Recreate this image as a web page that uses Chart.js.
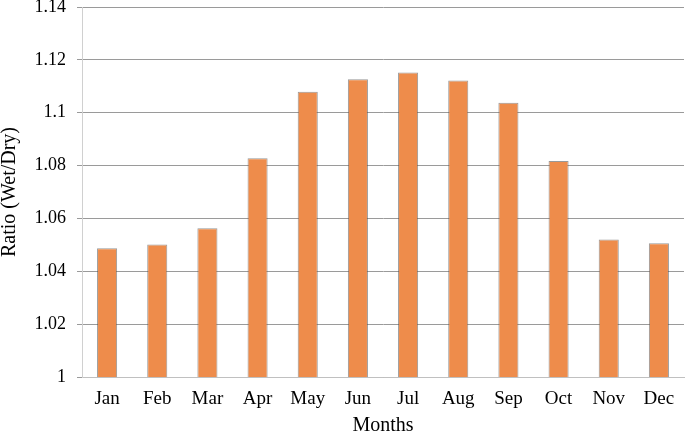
<!DOCTYPE html>
<html>
<head>
<meta charset="utf-8">
<script src="https://cdn.jsdelivr.net/npm/chart.js@4/dist/chart.umd.min.js"></script>
<style>
  html, body { margin: 0; padding: 0; background: #fff; }
  #wrap { width: 685px; height: 433px; position: relative; }
</style>
</head>
<body>
<div id="wrap"><canvas id="c"></canvas></div>
<script>
const months = ["Jan","Feb","Mar","Apr","May","Jun","Jul","Aug","Sep","Oct","Nov","Dec"];
const ratios = [1.0487, 1.0501, 1.0563, 1.0828, 1.1079, 1.1127, 1.1152, 1.1122, 1.1038, 1.0817, 1.0520, 1.0506];
const yTicks = [1, 1.02, 1.04, 1.06, 1.08, 1.1, 1.12, 1.14];
const xTitle = "Months";
const yTitle = "Ratio (Wet/Dry)";

const serif = "'Liberation Serif', 'Times New Roman', serif";

new Chart(document.getElementById('c'), {
  type: 'bar',
  data: {
    labels: months,
    datasets: [{
      data: ratios,
      backgroundColor: 'rgb(238,140,75)',
      borderColor: 'rgba(85,85,85,0.6)',
      borderWidth: 1,
      barPercentage: 0.4,
      categoryPercentage: 1.0
    }]
  },
  options: {
    responsive: true,
    maintainAspectRatio: false,
    animation: false,
    layout: { padding: { top: 7, right: 1, left: 0, bottom: 0 } },
    plugins: { legend: { display: false }, tooltip: { enabled: false } },
    scales: {
      x: {
        grid: { display: false, drawTicks: false },
        border: { display: true, color: '#c0c0c0', width: 1 },
        ticks: { color: '#000', font: { family: serif, size: 19 }, padding: 11, maxRotation: 0 },
        title: { display: true, text: xTitle, color: '#000', font: { family: serif, size: 20, lineHeight: 0.7 }, padding: 0 },
        afterFit: (s) => { s.height = 56; s.paddingLeft = 0; s.paddingRight = 0; }
      },
      y: {
        min: 1, max: 1.14,
        afterBuildTicks: (s) => { s.ticks = yTicks.map(v => ({ value: v })); },
        grid: { color: '#9a9a9a', tickLength: 5, tickColor: '#9a9a9a' },
        border: { display: true, color: '#d0d0d0', width: 1 },
        ticks: {
          color: '#000', font: { family: serif, size: 18 }, padding: 11,
          callback: (v) => String(Math.round(v * 100) / 100)
        },
        title: { display: true, text: yTitle, color: '#000', font: { family: serif, size: 20, lineHeight: 1 }, padding: { top: 0, bottom: 0 } },
        afterFit: (s) => { s.width = 82; s.paddingTop = 0; s.paddingBottom = 0; }
      }
    }
  }
});
</script>
</body>
</html>
